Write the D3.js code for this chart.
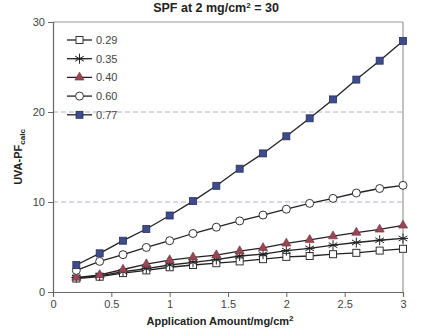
<!DOCTYPE html>
<html><head><meta charset="utf-8">
<script src="https://cdn.jsdelivr.net/npm/d3@7/dist/d3.min.js"></script>
<style>body{margin:0;background:#fff;}svg{display:block;font-family:"Liberation Sans",Arial,sans-serif;}</style>
</head><body><svg id="c" width="431" height="332"></svg>
<script>
const xs = [0.2,0.4,0.6,0.8,1.0,1.2,1.4,1.6,1.8,2.0,2.2,2.4,2.6,2.8,3.0];
const seriesNames = ["0.29","0.35","0.40","0.60","0.77"];
const s029 = [1.5,1.7,2.1,2.4,2.75,3.0,3.2,3.4,3.65,3.9,4.0,4.2,4.35,4.6,4.8];
const s035 = [1.6,1.8,2.25,2.6,3.0,3.3,3.6,4.0,4.2,4.6,4.85,5.2,5.5,5.75,5.95];
const s040 = [1.6,1.9,2.5,3.1,3.55,3.85,4.1,4.55,4.9,5.4,5.8,6.2,6.6,6.95,7.4];
const s060 = [2.4,3.4,4.15,4.95,5.7,6.5,7.2,7.9,8.55,9.2,9.85,10.4,11.0,11.5,11.85];
const s077 = [3.0,4.3,5.7,7.0,8.5,10.1,11.8,13.7,15.4,17.3,19.3,21.4,23.6,25.7,27.9];
const xTicks = [0,0.5,1,1.5,2,2.5,3];
const yTicks = [0,10,20,30];
const gridVals = [10,20];

const svg = d3.select("#c");
const x = d3.scaleLinear().domain([0,3]).range([53,403]);
const y = d3.scaleLinear().domain([0,30]).range([292,22]);
const seriesData = [s029,s035,s040,s060,s077];

svg.selectAll("line.grid").data(gridVals).enter().append("line")
  .attr("x1",x(0)).attr("x2",x(3)).attr("y1",d=>y(d)).attr("y2",d=>y(d))
  .attr("stroke","#b4b4cc").attr("stroke-dasharray","5,3").attr("stroke-width",1);
svg.append("line").attr("x1",x(0)).attr("x2",x(3)).attr("y1",y(30)).attr("y2",y(30)).attr("stroke","#999").attr("stroke-width",1.2);
svg.append("line").attr("x1",x(3)).attr("x2",x(3)).attr("y1",y(30)).attr("y2",y(0)).attr("stroke","#999").attr("stroke-width",1.2);

const xAxis = svg.append("g").attr("transform",`translate(0,${y(0)})`)
  .call(d3.axisBottom(x).tickValues(xTicks).tickSize(5).tickFormat(d=>d));
const yAxis = svg.append("g").attr("transform",`translate(${x(0)},0)`)
  .call(d3.axisLeft(y).tickValues(yTicks).tickSize(5));
[xAxis,yAxis].forEach(a=>{
  a.select(".domain").attr("stroke","#666").attr("stroke-width",1.2);
  a.selectAll(".tick line").attr("stroke","#666");
  a.selectAll(".tick text").attr("fill","#444").attr("font-size",11);
});

const line = d3.line().x((d,i)=>x(xs[i])).y(d=>y(d));
seriesData.forEach(s=>{
  svg.append("path").attr("d",line(s)).attr("fill","none").attr("stroke","#222").attr("stroke-width",1.3);
});

function marker(g, k, cx, cy){
  if(k===0){
    g.append("rect").attr("x",cx-3.5).attr("y",cy-3.5).attr("width",7).attr("height",7)
     .attr("fill","#fff").attr("stroke","#333").attr("stroke-width",1);
  } else if(k===1){
    const r=5;
    [0,60,120].forEach(a=>{
      const t=a*Math.PI/180+Math.PI/2;
      g.append("line").attr("x1",cx-r*Math.cos(t)).attr("y1",cy-r*Math.sin(t))
       .attr("x2",cx+r*Math.cos(t)).attr("y2",cy+r*Math.sin(t)).attr("stroke","#222").attr("stroke-width",1);
    });
    g.append("line").attr("x1",cx-r).attr("x2",cx+r).attr("y1",cy).attr("y2",cy).attr("stroke","#222").attr("stroke-width",1);
  } else if(k===2){
    g.append("path").attr("d",d3.symbol(d3.symbolTriangle,36)()).attr("transform",`translate(${cx},${cy})`)
     .attr("fill","#9a4656").attr("stroke","#6d2a38").attr("stroke-width",0.6);
  } else if(k===3){
    g.append("circle").attr("cx",cx).attr("cy",cy).attr("r",4).attr("fill","#fff").attr("stroke","#333").attr("stroke-width",1);
  } else {
    g.append("rect").attr("x",cx-3.5).attr("y",cy-3.5).attr("width",7).attr("height",7)
     .attr("fill","#3f4c8c").attr("stroke","#262f5e").attr("stroke-width",0.8);
  }
}
seriesData.forEach((s,k)=>{
  const g=svg.append("g");
  s.forEach((v,i)=>marker(g,k,x(xs[i]),y(v)));
});

seriesNames.forEach((n,k)=>{
  const ly=40+k*18.7;
  const g=svg.append("g");
  g.append("line").attr("x1",67).attr("x2",92).attr("y1",ly).attr("y2",ly).attr("stroke","#222").attr("stroke-width",1.3);
  marker(g,k,79.5,ly);
  g.append("text").attr("x",96).attr("y",ly+4).attr("font-size",11).attr("fill","#444").text(n);
});

const t=svg.append("text").attr("x",216).attr("y",12).attr("text-anchor","middle").attr("font-weight","bold").attr("font-size",12.5).attr("fill","#222");
t.append("tspan").text("SPF at 2 mg/cm");
t.append("tspan").attr("dy",-4).attr("font-size",8).text("2");
t.append("tspan").attr("dy",4).text(" = 30");

const xl=svg.append("text").attr("x",220).attr("y",325).attr("text-anchor","middle").attr("font-weight","bold").attr("font-size",11).attr("fill","#222");
xl.append("tspan").text("Application Amount/mg/cm");
xl.append("tspan").attr("dy",-4).attr("font-size",8).text("2");

const yl=svg.append("text").attr("transform",`translate(22,${y(15)}) rotate(-90)`).attr("text-anchor","middle").attr("font-weight","bold").attr("font-size",11).attr("fill","#222");
yl.append("tspan").text("UVA-PF");
yl.append("tspan").attr("dy",3).attr("font-size",8).text("calc");
</script></body></html>
